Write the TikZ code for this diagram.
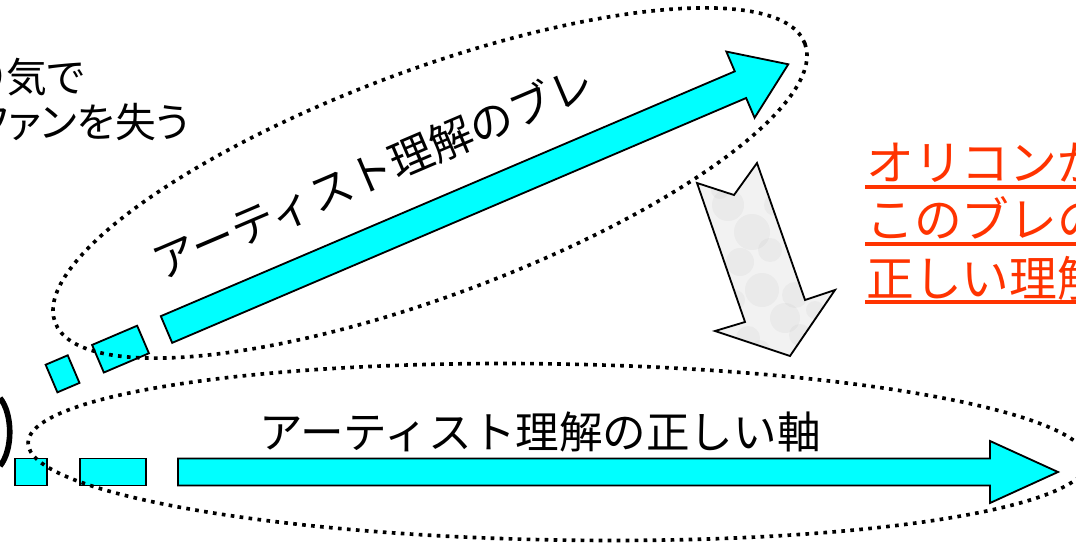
\documentclass[tikz,border=0pt]{standalone}
\usepackage{fontspec}
\newfontfamily\jafont{Noto Sans CJK JP}
\newfontfamily\jafontp[RawFeature=+palt]{Noto Sans CJK JP}
\definecolor{aqua}{RGB}{0,255,255}
\definecolor{orired}{RGB}{255,51,0}

\begin{document}
\begin{tikzpicture}[x=0.025cm,y=-0.025cm,
  piece/.style={draw=black, line width=1.3pt, fill=aqua, line join=miter},
  dotline/.style={draw=black, line width=2.6pt, dash pattern=on 2.6pt off 3.8pt},
  jatext/.style={font=\jafont\fontsize{31}{37}\selectfont, inner sep=0pt},
  smalltext/.style={font=\jafontp\fontsize{29}{34}\selectfont, inner sep=0pt, anchor=base east},
  redtext/.style={font=\jafont\fontsize{34}{40}\selectfont, text=orired, inner sep=0pt, anchor=base west},
  redline/.style={draw=orired, line width=2.2pt}]
\useasboundingbox (0,0) rectangle (1076,544);
\clip (0,0) rectangle (1076,544);

% bottom arrow (correct axis)
\draw [piece] (15,458.5) rectangle (47,485.5);
\draw [piece] (80,458.5) rectangle (146,485.5);
\draw [piece] (178,458.5) -- (990,458.5) -- (990,441) -- (1058,472) -- (990,503) -- (990,485.5) -- (178,485.5) -- cycle;

% tilted arrow (drift)
\begin{scope}[shift={(166.5,329.5)}, rotate=23.1]
\draw [piece] (-125,-15) rectangle (-101,15);
\draw [piece] (-74.5,-15) rectangle (-25.5,15);
\draw [piece] (0,-14.5) -- (624,-14.5) -- (624,-36) -- (676,0) -- (624,36) -- (624,14.5) -- (0,14.5) -- cycle;
\node [jatext, transform shape] (drift) at (252,-64) {アーティスト理解のブレ};
\end{scope}

% dotted ellipses
\draw [dotline, rotate around={20.4:(430,183)}] (430,183) ellipse [x radius=400, y radius=113];
\draw [dotline, rotate around={-1:(558,452)}] (558,452) ellipse [x radius=530, y radius=88];

% gray arrow
\def\grayarrow{(757,163) -- (805,300) -- (835,290) -- (790,356) -- (715,331) -- (745,322) -- (697,183) -- (734,195) -- cycle}
\fill [gray!10] \grayarrow;
\begin{scope}
\clip \grayarrow;
\foreach \x/\y/\r in {728/205/16, 752/232/18, 740/262/14, 770/250/12, 762/290/17, 785/318/15, 748/338/12, 800/335/11, 775/205/11, 735/300/10, 720/190/9, 795/295/13, 760/350/10, 815/310/9}
  \fill [gray!60, opacity=0.12] (\x,\y) circle [radius=\r];
\end{scope}
\draw [line width=1.3pt, line join=miter] \grayarrow;

% left edge
\draw [line width=4pt] (0,398) .. controls (13,414) and (13,450) .. (0,466);
\node [smalltext] (fickle) at (85,93) {り気で};
\node [smalltext] (losefans) at (190,138) {ファンを失う};

% bottom label
\node [jatext] (axis) at (540,432) {アーティスト理解の正しい軸};

% red note
\node [redtext] (note1) at (866,181) {オリコンが};
\node [redtext] (note2) at (866,238) {このブレの};
\node [redtext] (note3) at (866,296) {正しい理解};
\draw [redline] (865,187) -- (1076,187);
\draw [redline] (865,244) -- (1076,244);
\draw [redline] (865,302) -- (1076,302);
\end{tikzpicture}
\end{document}
